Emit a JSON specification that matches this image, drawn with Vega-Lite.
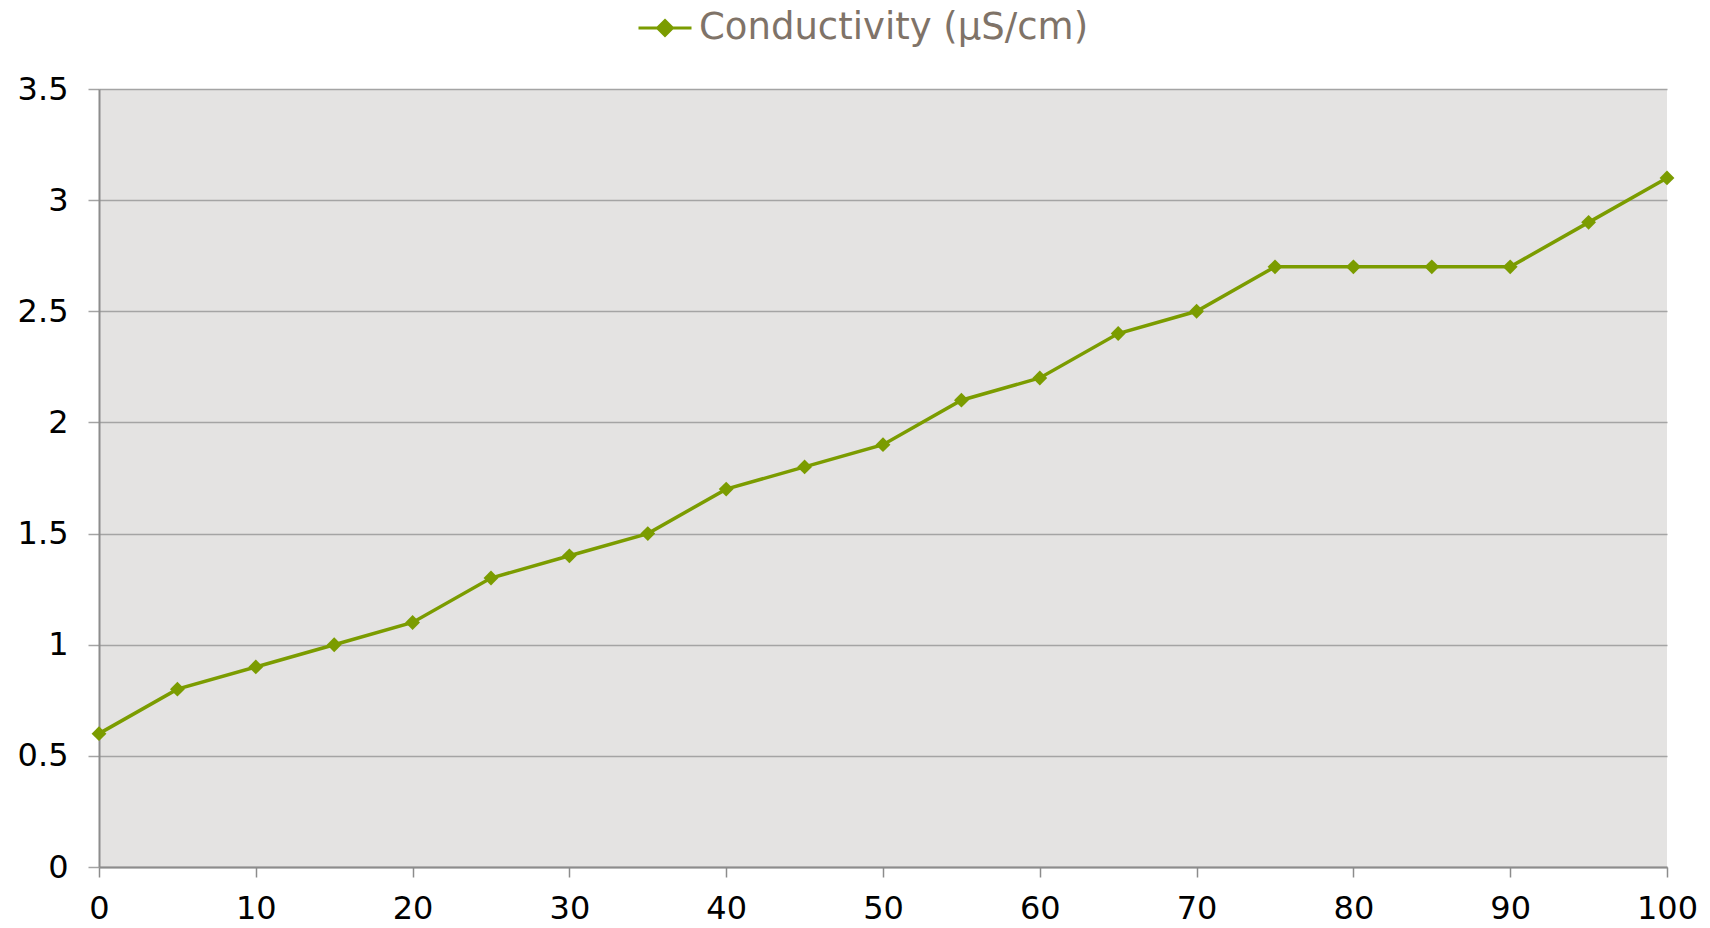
{
  "$schema": "https://vega.github.io/schema/vega-lite/v6.json",
  "width": 1568,
  "height": 778,
  "autosize": "none",
  "padding": {"left": 99, "top": 89, "right": 43, "bottom": 61},
  "background": "white",
  "config": {
    "font": "DejaVu Sans",
    "view": {"fill": "#e4e3e2", "stroke": null}
  },
  "data": {
    "values": [
      {"x": 0, "y": 0.6, "series": "Conductivity (μS/cm)"},
      {"x": 5, "y": 0.8, "series": "Conductivity (μS/cm)"},
      {"x": 10, "y": 0.9, "series": "Conductivity (μS/cm)"},
      {"x": 15, "y": 1.0, "series": "Conductivity (μS/cm)"},
      {"x": 20, "y": 1.1, "series": "Conductivity (μS/cm)"},
      {"x": 25, "y": 1.3, "series": "Conductivity (μS/cm)"},
      {"x": 30, "y": 1.4, "series": "Conductivity (μS/cm)"},
      {"x": 35, "y": 1.5, "series": "Conductivity (μS/cm)"},
      {"x": 40, "y": 1.7, "series": "Conductivity (μS/cm)"},
      {"x": 45, "y": 1.8, "series": "Conductivity (μS/cm)"},
      {"x": 50, "y": 1.9, "series": "Conductivity (μS/cm)"},
      {"x": 55, "y": 2.1, "series": "Conductivity (μS/cm)"},
      {"x": 60, "y": 2.2, "series": "Conductivity (μS/cm)"},
      {"x": 65, "y": 2.4, "series": "Conductivity (μS/cm)"},
      {"x": 70, "y": 2.5, "series": "Conductivity (μS/cm)"},
      {"x": 75, "y": 2.7, "series": "Conductivity (μS/cm)"},
      {"x": 80, "y": 2.7, "series": "Conductivity (μS/cm)"},
      {"x": 85, "y": 2.7, "series": "Conductivity (μS/cm)"},
      {"x": 90, "y": 2.7, "series": "Conductivity (μS/cm)"},
      {"x": 95, "y": 2.9, "series": "Conductivity (μS/cm)"},
      {"x": 100, "y": 3.1, "series": "Conductivity (μS/cm)"}
    ]
  },
  "encoding": {
    "x": {
      "field": "x",
      "type": "quantitative",
      "scale": {"domain": [0, 100], "nice": false, "zero": false},
      "axis": {
        "title": null,
        "values": [0, 10, 20, 30, 40, 50, 60, 70, 80, 90, 100],
        "grid": false,
        "domainColor": "#8c8c8c",
        "domainWidth": 2,
        "tickColor": "#8c8c8c",
        "tickWidth": 1.5,
        "tickSize": 10,
        "labelFontSize": 32,
        "labelColor": "#000000",
        "labelPadding": 16,
        "labelFlush": false,
        "labelOverlap": false
      }
    },
    "y": {
      "field": "y",
      "type": "quantitative",
      "scale": {"domain": [0, 3.5], "nice": false},
      "axis": {
        "title": null,
        "values": [0, 0.5, 1, 1.5, 2, 2.5, 3, 3.5],
        "format": "~g",
        "grid": true,
        "gridColor": "#a4a4a4",
        "gridWidth": 1.5,
        "domainColor": "#8c8c8c",
        "domainWidth": 2,
        "tickColor": "#a4a4a4",
        "tickWidth": 1.5,
        "tickSize": 11,
        "labelFontSize": 32,
        "labelColor": "#000000",
        "labelPadding": 20,
        "labelFlush": false,
        "labelOverlap": false
      }
    }
  },
  "layer": [
    {
      "mark": {"type": "line", "color": "#7b9c00", "strokeWidth": 3.5},
      "encoding": {
        "color": {
          "field": "series",
          "type": "nominal",
          "scale": {"range": ["#7b9c00"]},
          "legend": {
            "orient": "none",
            "legendX": 538,
            "legendY": -89,
            "title": null,
            "labelFontSize": 37,
            "labelLimit": 0,
            "labelColor": "#7f7368",
            "labelOffset": 6,
            "symbolType": "M-1,0H1M0,-0.28L0.28,0L0,0.28L-0.28,0Z",
            "symbolSize": 2809,
            "symbolStrokeWidth": 3,
            "symbolFillColor": "#7b9c00",
            "symbolStrokeColor": "#7b9c00"
          }
        }
      }
    },
    {
      "mark": {"type": "point", "shape": "diamond", "filled": true, "size": 220, "color": "#7b9c00", "opacity": 1},
      "encoding": {}
    }
  ]
}
